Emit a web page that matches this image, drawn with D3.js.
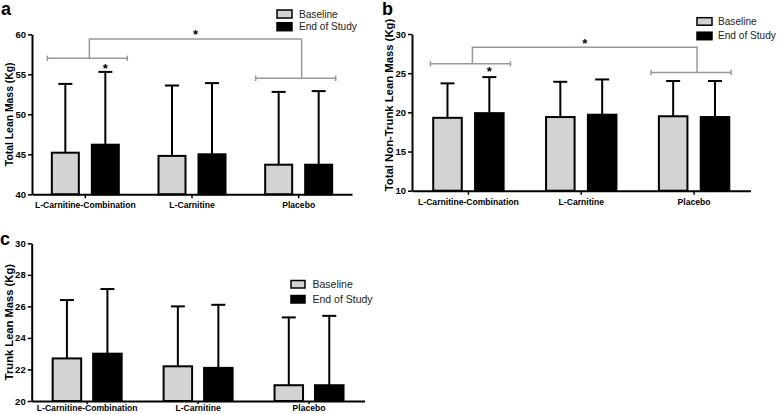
<!DOCTYPE html>
<html><head><meta charset="utf-8">
<script src="https://cdnjs.cloudflare.com/ajax/libs/d3/7.8.5/d3.min.js"></script>
<style>
html,body{margin:0;padding:0;background:#fff;}
svg{display:block;font-family:"Liberation Sans",Arial,sans-serif;}
</style></head>
<body>
<svg id="chart" width="778" height="414"></svg>
<script>
// ---------- DATA ----------
const groups = ["L-Carnitine-Combination", "L-Carnitine", "Placebo"];
const series = ["Baseline", "End of Study"];

// Panel a: Total Lean Mass (Kg)
const totalLeanBaseline   = [45.2, 44.8, 43.7];
const totalLeanBaselineSD = [8.6, 8.8, 9.1];
const totalLeanEnd        = [46.2, 45.0, 43.7];
const totalLeanEndSD      = [9.1, 8.9, 9.2];
const totalLeanTicks      = [40, 45, 50, 55, 60];

// Panel b: Total Non-Trunk Lean Mass (Kg)
const nonTrunkBaseline   = [19.3, 19.4, 19.5];
const nonTrunkBaselineSD = [4.4, 4.5, 4.5];
const nonTrunkEnd        = [19.9, 19.7, 19.4];
const nonTrunkEndSD      = [4.6, 4.5, 4.6];
const nonTrunkTicks      = [10, 15, 20, 25, 30];

// Panel c: Trunk Lean Mass (Kg)
const trunkBaseline   = [22.7, 22.2, 21.0];
const trunkBaselineSD = [3.7, 3.8, 4.3];
const trunkEnd        = [23.0, 22.1, 21.0];
const trunkEndSD      = [4.1, 4.0, 4.4];
const trunkTicks      = [20, 22, 24, 26, 28, 30];

const seriesColors = ["#d3d3d3", "#000000"];

// ---------- DRAW ----------
const svg = d3.select("#chart");

const panels = [
  {label:"a", title:"Total Lean Mass (Kg)", titleSize:10.4, titleX:9, titleY:null,
   mean:[totalLeanBaseline,totalLeanEnd], sd:[totalLeanBaselineSD,totalLeanEndSD],
   ticks:totalLeanTicks, domain:[40,60], xr:[32,352], yr:[194.3,34.3],
   half:33.5, pad:0.325, labelPos:[1,15], xTickLen:4, xTickPad:4,
   legend:{x:277,y:10,w:15,h:8,dy:12.7,tx:299,size:10.1},
   sig:{left:57, top:59.4, right:54.5, star:60.3, barStar:56}},
  {label:"b", title:"Total Non-Trunk Lean Mass (Kg)", titleSize:11.3, titleX:389, titleY:105,
   mean:[nonTrunkBaseline,nonTrunkEnd], sd:[nonTrunkBaselineSD,nonTrunkEndSD],
   ticks:nonTrunkTicks, domain:[10,30], xr:[412,750.5], yr:[190.7,34],
   half:35.2, pad:0.318, labelPos:[382,15], xTickLen:4, xTickPad:4,
   legend:{x:697,y:17.7,w:15,h:7.5,dy:14.5,tx:718,size:10.1},
   sig:{left:26.2, top:28.3, right:25.1, star:29.1, barStar:25.5}},
  {label:"c", title:"Trunk Lean Mass (Kg)", titleSize:11.2, titleX:9, titleY:null,
   mean:[trunkBaseline,trunkEnd], sd:[trunkBaselineSD,trunkEndSD],
   ticks:trunkTicks, domain:[20,30], xr:[31.7,364.5], yr:[401,243.3],
   half:34.5, pad:0.296, labelPos:[0,245], xTickLen:3, xTickPad:0.5,
   legend:{x:291,y:280.5,w:14,h:7.5,dy:15,tx:312.5,size:10.5},
   sig:null}
];

panels.forEach(p => {
  const g = svg.append("g");
  const x0 = d3.scaleBand().domain(groups).range(p.xr).paddingInner(0).paddingOuter(0);
  const x1 = d3.scaleBand().domain(series).range([-p.half, p.half]).paddingInner(p.pad).paddingOuter(0);
  const y = d3.scaleLinear().domain(p.domain).range(p.yr);
  const cx = gname => x0(gname) + x0.bandwidth()/2;

  // bars
  series.forEach((s, si) => {
    groups.forEach((gname, gi) => {
      const v = p.mean[si][gi], e = p.sd[si][gi];
      const bx = cx(gname) + x1(s);
      const bw = x1.bandwidth();
      const mid = bx + bw/2;
      // error bar (upper only)
      g.append("line").attr("x1", mid).attr("x2", mid)
        .attr("y1", y(v)).attr("y2", y(v+e))
        .attr("stroke", "#000").attr("stroke-width", 2);
      g.append("line").attr("x1", mid-7).attr("x2", mid+7)
        .attr("y1", y(v+e)).attr("y2", y(v+e))
        .attr("stroke", "#000").attr("stroke-width", 2);
      g.append("rect").attr("x", bx).attr("y", y(v))
        .attr("width", bw).attr("height", y(p.domain[0]) - y(v))
        .attr("fill", seriesColors[si]).attr("stroke", "#000").attr("stroke-width", 2);
    });
  });

  // y axis
  const ya = g.append("g").attr("transform", `translate(${p.xr[0]},0)`)
    .call(d3.axisLeft(y).tickValues(p.ticks).tickSize(4).tickPadding(2).tickSizeOuter(0));
  ya.select(".domain").attr("stroke-width", 2).attr("stroke", "#000");
  ya.selectAll(".tick line").attr("stroke-width", 1.5);
  ya.selectAll("text").attr("font-size", 9.5).attr("font-weight", "bold").attr("fill", "#000");

  // x axis
  const xa = g.append("g").attr("transform", `translate(0,${p.yr[0]})`)
    .call(d3.axisBottom(x0).tickSize(p.xTickLen).tickPadding(p.xTickPad).tickSizeOuter(0));
  xa.select(".domain").attr("stroke-width", 2).attr("stroke", "#000");
  xa.selectAll(".tick line").attr("stroke-width", 1.5);
  xa.selectAll("text").attr("font-size", 8.6).attr("font-weight", "bold").attr("fill", "#000");

  // y title
  const ty = p.titleY !== null ? p.titleY : (p.yr[0] + p.yr[1]) / 2;
  g.append("text").attr("transform", `translate(${p.titleX},${ty}) rotate(-90)`)
    .attr("text-anchor", "middle").attr("dominant-baseline", "central")
    .attr("font-size", p.titleSize).attr("font-weight", "bold").text(p.title);

  // panel label
  g.append("text").attr("x", p.labelPos[0]).attr("y", p.labelPos[1])
    .attr("font-size", 18).attr("font-weight", "bold").text(p.label);

  // legend
  series.forEach((s, si) => {
    const ly = p.legend.y + si * p.legend.dy;
    g.append("rect").attr("x", p.legend.x).attr("y", ly)
      .attr("width", p.legend.w).attr("height", p.legend.h)
      .attr("fill", seriesColors[si]).attr("stroke", "#000").attr("stroke-width", 1.5);
    g.append("text").attr("x", p.legend.tx).attr("y", ly + p.legend.h/2)
      .attr("dominant-baseline", "central").attr("font-size", p.legend.size)
      .attr("fill", "#222").text(s);
  });

  // significance brackets
  if (p.sig) {
    const gc = "#999";
    const bh = 40;
    const c1 = cx(groups[0]), c3 = cx(groups[2]);
    const yl = y(p.sig.left), yt = y(p.sig.top), yrr = y(p.sig.right);
    const br = (c, yy) => {
      g.append("line").attr("x1", c-bh).attr("x2", c+bh).attr("y1", yy).attr("y2", yy)
        .attr("stroke", gc).attr("stroke-width", 1.5);
      [c-bh, c+bh].forEach(xx => g.append("line").attr("x1", xx).attr("x2", xx)
        .attr("y1", yy-2.7).attr("y2", yy+2.7).attr("stroke", gc).attr("stroke-width", 1.5));
    };
    br(c1 + 2, yl);
    br(c3 - 3, yrr);
    const path = d3.path();
    path.moveTo(c1 + 4, yl); path.lineTo(c1 + 4, yt);
    path.lineTo(c3 + 3, yt); path.lineTo(c3 + 3, yrr);
    g.append("path").attr("d", path.toString()).attr("fill", "none")
      .attr("stroke", gc).attr("stroke-width", 1.5);
    // stars
    const starMid = ((c1 + 4) + (c3 + 3)) / 2;
    g.append("text").attr("x", starMid).attr("y", y(p.sig.star) + 7)
      .attr("text-anchor", "middle").attr("font-size", 13).attr("font-weight", "bold").text("*");
    const ex = cx(groups[0]) + x1(series[1]) + x1.bandwidth()/2;
    g.append("text").attr("x", ex).attr("y", y(p.sig.barStar) + 7)
      .attr("text-anchor", "middle").attr("font-size", 13).attr("font-weight", "bold").text("*");
  }
});
</script>
</body></html>
